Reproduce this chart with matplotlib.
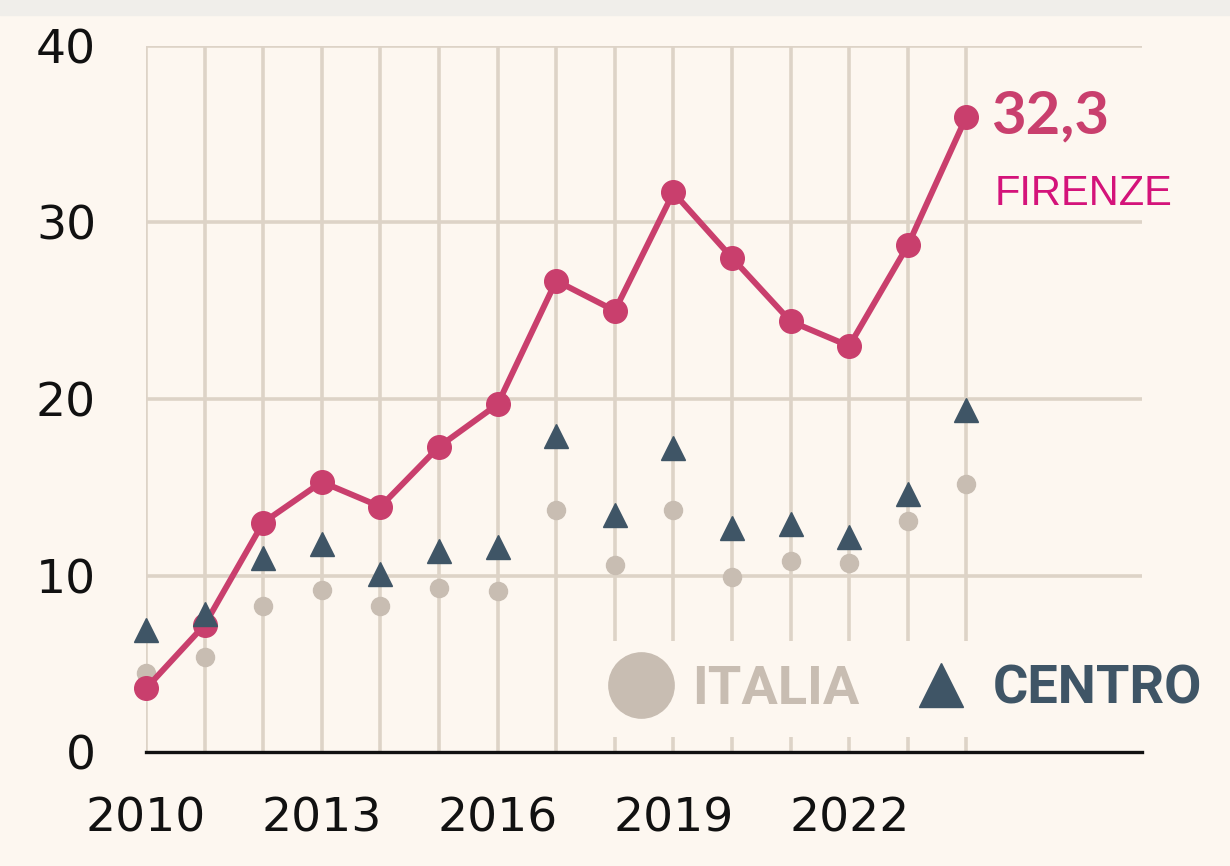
import matplotlib
matplotlib.use("Agg")
import matplotlib.pyplot as plt
from matplotlib.lines import Line2D
from matplotlib.patches import Rectangle

# values
years = list(range(2010, 2025))
firenze = [3.6, 7.2, 13.0, 15.3, 13.9, 17.3, 19.7, 26.7, 25.0, 31.7, 28.0, 24.4, 23.0, 28.7, 36.0]
centro = [6.9, 7.8, 11.0, 11.8, 10.1, 11.4, 11.6, 17.9, 13.4, 17.2, 12.7, 12.9, 12.2, 14.6, 19.4]
italia = [4.5, 5.4, 8.3, 9.2, 8.3, 9.3, 9.1, 13.7, 10.6, 13.7, 9.9, 10.8, 10.7, 13.1, 15.2]
y_ticks = [0, 10, 20, 30, 40]
x_ticks = [2010, 2013, 2016, 2019, 2022]
last_label = "32,3"

BG = "#FDF7F0"
GRID = "#DDD3C7"
PINK = "#C93F6D"
MAGENTA = "#D4137A"
NAVY = "#3F5566"
BEIGE = "#C8BDB2"

fig = plt.figure(figsize=(12.3, 8.66), dpi=100, facecolor=BG)
fig.patches.append(Rectangle((0, 1 - 15 / 866), 1, 15 / 866, transform=fig.transFigure,
                             color="#F0EEEA", zorder=0))
ax = fig.add_axes([146 / 1230, 1 - 752 / 866, (1142 - 146) / 1230, (752 - 46) / 866])
ax.set_facecolor(BG)

# grid: horizontal across the full width, vertical only at data years
for v in y_ticks[1:]:
    ax.axhline(v, color=GRID, lw=2.6, zorder=1)
for yr in years:
    ax.axvline(yr, color=GRID, lw=2.6, zorder=1)

ax.plot(years, italia, "o", color=BEIGE, ms=13, zorder=3, clip_on=False)
ax.plot(years, firenze, "-o", color=PINK, lw=4.3, ms=17, zorder=4, clip_on=False)
ax.plot(years, centro, "^", color=NAVY, ms=17, zorder=5, clip_on=False)

ax.annotate(last_label, (years[-1], firenze[-1]), xytext=(18, 0), textcoords="offset points",
            ha="left", va="center", fontsize=43, fontweight="bold", color=PINK,
            family="Lato")
ax.annotate("FIRENZE", (years[-1], firenze[-1]), xytext=(20, -56), textcoords="offset points",
            ha="left", va="center", fontsize=30, color=MAGENTA, family="Liberation Sans")

ax.set_xlim(2010, 2010 + (1142 - 146) / 58.6)
ax.set_ylim(0, 40)
ax.set_yticks(y_ticks)
ax.set_xticks(x_ticks)
ax.tick_params(length=0, labelsize=34, colors="#111111")
ax.tick_params(axis="y", pad=36)
ax.tick_params(axis="x", pad=32)
for s in ["top", "right", "left"]:
    ax.spines[s].set_visible(False)
ax.spines["bottom"].set_color("#111111")
ax.spines["bottom"].set_linewidth(2.4)
ax.spines["bottom"].set_zorder(6)

handles = [
    Line2D([], [], ls="none", marker="o", ms=47, color=BEIGE, label="ITALIA"),
    Line2D([], [], ls="none", marker="^", ms=32, color=NAVY, label="CENTRO"),
]
leg = ax.legend(handles=handles, ncol=2, loc="center", bbox_to_anchor=(905 / 1230, 1 - 689 / 866),
                bbox_transform=fig.transFigure, frameon=True, facecolor=BG, edgecolor="none",
                framealpha=1, fancybox=False, borderpad=0.42, handlelength=1.2,
                handletextpad=0.35, columnspacing=0.9,
                prop={"family": "Roboto", "weight": "bold", "size": 39},
                labelcolor=[BEIGE, NAVY])
leg.set_zorder(7)

fig.savefig("out.png", dpi=100, facecolor=BG)
